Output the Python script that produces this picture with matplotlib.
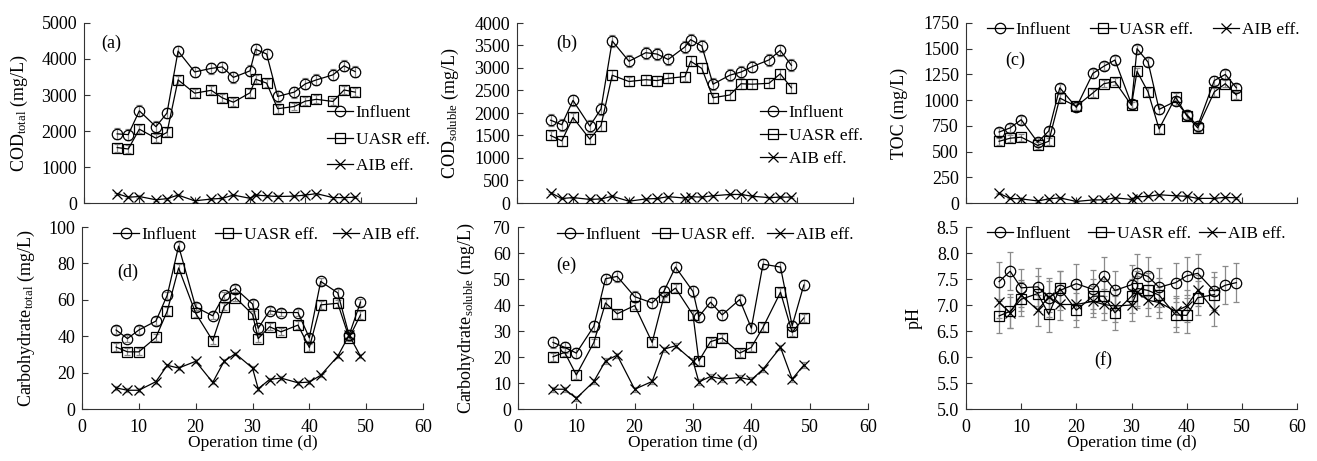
import matplotlib
matplotlib.use("Agg")
import matplotlib.pyplot as plt
import numpy as np
from matplotlib.lines import Line2D
from matplotlib.legend import Legend
from matplotlib.ticker import FormatStrFormatter

plt.rcParams['font.family'] = ['Liberation Serif', 'DejaVu Serif']
plt.rcParams['font.size'] = 12
plt.rcParams['mathtext.fontset'] = 'custom'
plt.rcParams['mathtext.rm'] = 'Liberation Serif'
plt.rcParams['mathtext.it'] = 'Liberation Serif:italic'

W, H = 1317, 461

# ---------------- data ----------------
days = [6, 8, 10, 13, 15, 17, 20, 23, 25, 27, 30, 31, 33, 35, 38, 40, 42, 45, 47, 49]

cod_total_inf = [1920, 1900, 2560, 2120, 2500, 4220, 3640, 3740, 3780, 3490, 3670, 4270, 4140, 2960, 3080, 3310, 3420, 3560, 3810, 3650]
cod_total_uasr = [1540, 1500, 2050, 1800, 1960, 3420, 3050, 3130, 2920, 2800, 3060, 3440, 3330, 2620, 2680, 2830, 2880, 2820, 3140, 3080]
cod_total_aib = [260, 160, 180, 90, 120, 220, 60, 110, 130, 220, 130, 220, 200, 180, 190, 220, 260, 150, 150, 160]

cod_sol_inf = [1840, 1740, 2280, 1710, 2090, 3600, 3150, 3340, 3310, 3190, 3470, 3630, 3490, 2640, 2840, 2910, 3030, 3180, 3390, 3060]
cod_sol_uasr = [1500, 1380, 1900, 1420, 1720, 2840, 2700, 2740, 2720, 2770, 2810, 3150, 2990, 2340, 2400, 2650, 2640, 2660, 2870, 2560]
cod_sol_aib = [230, 100, 120, 80, 90, 150, 40, 90, 100, 140, 110, 140, 130, 160, 190, 190, 150, 120, 130, 130]

toc_inf = [690, 730, 810, 590, 700, 1120, 930, 1260, 1330, 1390, 960, 1500, 1370, 910, 990, 860, 750, 1190, 1250, 1120]
toc_uasr = [600, 630, 640, 560, 600, 1020, 940, 1070, 1160, 1180, 950, 1280, 1080, 720, 1030, 850, 730, 1080, 1160, 1050]
toc_aib = [94, 45, 40, 20, 40, 50, 15, 30, 30, 50, 35, 60, 65, 80, 70, 65, 45, 45, 55, 50]

carb_total_inf = [43.4, 38.7, 43.4, 48.3, 62.5, 89.5, 56.0, 51.2, 62.5, 66.2, 57.7, 44.3, 54.0, 53.0, 53.0, 39.1, 70.1, 63.8, 40.6, 58.7]
carb_total_uasr = [34.0, 31.4, 31.4, 39.3, 53.8, 77.5, 52.6, 37.5, 56.3, 61.2, 52.0, 38.7, 45.2, 42.4, 46.1, 33.8, 57.2, 58.1, 39.1, 51.7]
carb_total_aib = [11.6, 10.3, 10.3, 15.0, 24.0, 22.5, 26.2, 14.6, 26.2, 30.4, 22.5, 11.1, 16.2, 17.0, 14.4, 14.8, 18.5, 29.0, 40.6, 29.0]

carb_sol_inf = [25.6, 23.7, 21.5, 31.8, 50.1, 51.0, 43.2, 40.8, 45.2, 54.6, 45.2, 35.5, 41.1, 36.2, 42.1, 31.1, 55.7, 54.6, 32.0, 47.7]
carb_sol_uasr = [20.1, 21.8, 13.1, 25.6, 40.8, 36.6, 39.8, 25.6, 43.2, 46.5, 36.2, 18.5, 25.9, 27.3, 21.5, 23.7, 31.4, 44.9, 29.5, 35.0]
carb_sol_aib = [7.6, 7.6, 4.1, 10.6, 18.5, 20.7, 7.6, 10.6, 23.0, 24.3, 18.5, 10.4, 12.5, 11.5, 12.1, 11.2, 15.3, 23.7, 11.5, 16.9]

ph_days_eff = [6, 8, 10, 13, 15, 17, 20, 23, 25, 27, 30, 31, 33, 35, 38, 40, 42, 45]
ph_inf = [7.45, 7.65, 7.33, 7.35, 7.14, 7.28, 7.41, 7.30, 7.55, 7.28, 7.39, 7.62, 7.55, 7.34, 7.43, 7.56, 7.61, 7.27, 7.38, 7.43]
ph_uasr = [6.79, 6.88, 7.11, 7.22, 6.82, 7.32, 6.90, 7.17, 7.17, 6.85, 7.17, 7.32, 7.28, 7.19, 6.81, 6.80, 7.14, 7.20]
ph_aib = [7.05, 6.85, 7.19, 6.90, 7.16, 7.01, 7.01, 7.07, 7.01, 6.98, 7.00, 7.25, 7.09, 7.05, 6.88, 6.98, 7.28, 6.90]

# approximate error-bar half widths (influent, UASR, AIB)
err_cod_total = [150, 110, 30]
err_cod_sol = [130, 110, 20]
err_toc = [40, 35, 8]
err_carb_total = [2.0, 2.0, 1.0]
err_carb_sol = [2.0, 1.5, 1.0]
err_ph = [0.37, 0.33, 0.30]

labels = ['Influent', 'UASR eff.', 'AIB eff.']
markers = ['o', 's', 'x']

TICK_FS = 13
LABEL_FS = 13
LEG_FS = 12.5
XLAB_FS = 12.5

fig = plt.figure(figsize=(W / 100, H / 100), dpi=100)


def make_ax(l, t, r, b):
    return fig.add_axes([l / W, 1 - b / H, (r - l) / W, (b - t) / H])


def style(ax, ymax, ystep, show_xlabels, fmt=None, ymin=0):
    ax.set_xlim(0, 60)
    ax.set_ylim(ymin, ymax)
    ax.set_xticks(range(0, 61, 10))
    ax.set_yticks(np.arange(ymin, ymax + ystep / 2, ystep))
    if fmt:
        ax.yaxis.set_major_formatter(FormatStrFormatter(fmt))
    for s in ['top', 'right']:
        ax.spines[s].set_visible(False)
    for s in ['left', 'bottom']:
        ax.spines[s].set_linewidth(0.8)
        ax.spines[s].set_color('#333333')
    ax.tick_params(axis='both', direction='in', length=4, width=0.8, color='#333333', labelsize=TICK_FS)
    ax.tick_params(axis='y', pad=5)
    ax.tick_params(axis='x', pad=7, labelbottom=show_xlabels)


def series(ax, xs, ys, errs, marker):
    ax.errorbar(xs, ys, yerr=errs, fmt='none', ecolor='#8a8a8a', elinewidth=0.9, capsize=2.2, capthick=0.9, zorder=2)
    ax.plot(xs, ys, color='black', lw=0.9, marker=marker, ms=7.5,
            mfc='none', mec='black', mew=0.9, zorder=3)


def entry(ax, marker, label, xpx, ypx):
    h = Line2D([], [], color='black', lw=0.9, marker=marker, ms=7.5, mfc='none', mec='black', mew=0.9)
    leg = Legend(ax, [h], [label], loc='center left', bbox_to_anchor=(xpx / W, 1 - ypx / H),
                 bbox_transform=fig.transFigure, frameon=False, borderpad=0, borderaxespad=0,
                 handlelength=1.5, handletextpad=0.15, numpoints=1, fontsize=LEG_FS)
    ax.add_artist(leg)


panels = [
    dict(rect=(84, 23, 416, 203), data=(cod_total_inf, cod_total_uasr, cod_total_aib), err=err_cod_total,
         ymax=5000, ystep=1000, xl=False, ylabel=r'COD$_{\mathrm{total}}$ (mg/L)', ylx=19,
         tag='(a)', tagpos=(111, 43), leg=[(327, 113), (327, 140), (327, 166)]),
    dict(rect=(517, 23, 853, 203), data=(cod_sol_inf, cod_sol_uasr, cod_sol_aib), err=err_cod_sol,
         ymax=4000, ystep=500, xl=False, ylabel=r'COD$_{\mathrm{soluble}}$ (mg/L)', ylx=450,
         tag='(b)', tagpos=(567, 43), leg=[(760, 113), (760, 136), (760, 159)]),
    dict(rect=(966, 23, 1297, 203), data=(toc_inf, toc_uasr, toc_aib), err=err_toc,
         ymax=1750, ystep=250, xl=False, ylabel='TOC (mg/L)', ylx=899,
         tag='(c)', tagpos=(1015, 60), leg=[(987, 30), (1090, 30), (1213, 30)]),
    dict(rect=(82, 227, 423, 409), data=(carb_total_inf, carb_total_uasr, carb_total_aib), err=err_carb_total,
         ymax=100, ystep=20, xl=True, ylabel=r'Carbohydrate$_{\mathrm{total}}$ (mg/L)', ylx=26,
         tag='(d)', tagpos=(128, 272), leg=[(113, 235), (215, 235), (333, 235)]),
    dict(rect=(518, 227, 868, 409), data=(carb_sol_inf, carb_sol_uasr, carb_sol_aib), err=err_carb_sol,
         ymax=70, ystep=10, xl=True, ylabel=r'Carbohydrate$_{\mathrm{soluble}}$ (mg/L)', ylx=466,
         tag='(e)', tagpos=(566, 265), leg=[(557, 235), (652, 235), (767, 235)]),
]

for p in panels:
    ax = make_ax(*p['rect'])
    style(ax, p['ymax'], p['ystep'], p['xl'])
    for ys, e, m in zip(p['data'], p['err'], markers):
        series(ax, days, ys, e, m)
    l, t, r, b = p['rect']
    fig.text(p['ylx'] / W, 1 - ((t + b) / 2) / H, p['ylabel'], rotation=90, ha='center', va='center', fontsize=LABEL_FS)
    fig.text(p['tagpos'][0] / W, 1 - p['tagpos'][1] / H, p['tag'], ha='center', va='center', fontsize=LABEL_FS)
    for (xp, yp), m, lab in zip(p['leg'], markers, labels):
        entry(ax, m, lab, xp, yp)
    if p['xl']:
        fig.text(((l + r) / 2) / W, 1 - 443 / H, 'Operation time (d)', ha='center', va='center', fontsize=XLAB_FS)

# panel (f): pH
rect_f = (966, 227, 1297, 409)
axf = make_ax(*rect_f)
style(axf, 8.5, 0.5, True, fmt='%.1f', ymin=5.0)
series(axf, days, ph_inf, err_ph[0], 'o')
series(axf, ph_days_eff, ph_uasr, err_ph[1], 's')
series(axf, ph_days_eff, ph_aib, err_ph[2], 'x')
fig.text(914 / W, 1 - 318 / H, 'pH', rotation=90, ha='center', va='center', fontsize=LABEL_FS)
fig.text(1103 / W, 1 - 360 / H, '(f)', ha='center', va='center', fontsize=LABEL_FS)
for (xp, yp), m, lab in zip([(987, 234), (1088, 234), (1199, 234)], markers, labels):
    entry(axf, m, lab, xp, yp)
fig.text(((966 + 1297) / 2) / W, 1 - 443 / H, 'Operation time (d)', ha='center', va='center', fontsize=XLAB_FS)

fig.savefig('out.png', dpi=100)
